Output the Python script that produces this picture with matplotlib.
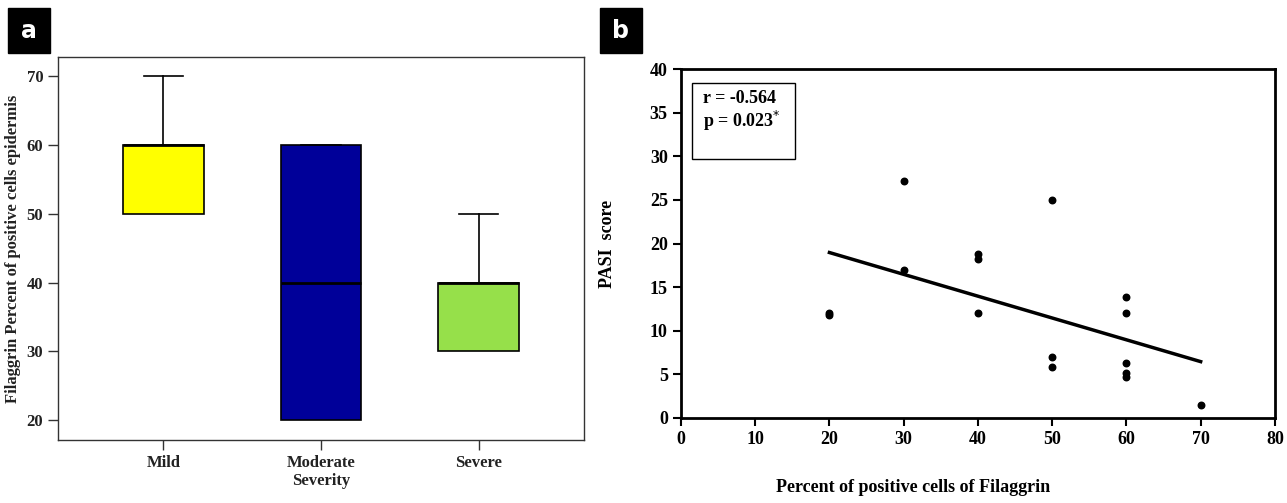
import matplotlib
matplotlib.use("Agg")
import matplotlib.pyplot as plt
import numpy as np
from matplotlib.patches import Rectangle

# ---- data ----
categories = ["Mild", "Moderate", "Severe"]
box_q1 = [50, 20, 30]
box_med = [60, 40, 40]
box_q3 = [60, 60, 40]
whisker_lo = [50, 20, 30]
whisker_hi = [70, 60, 50]
box_colors = ["#FFFF00", "#000099", "#96E04A"]
a_yticks = [20, 30, 40, 50, 60, 70]

filaggrin = [20, 20, 30, 30, 40, 40, 40, 50, 50, 50, 60, 60, 60, 60, 60, 70]
pasi = [12.0, 11.8, 27.2, 17.0, 18.8, 18.2, 12.0, 25.0, 7.0, 5.9, 13.9, 12.0, 6.3, 5.1, 4.7, 1.5]
b_xticks = [0, 10, 20, 30, 40, 50, 60, 70, 80]
b_yticks = [0, 5, 10, 15, 20, 25, 30, 35, 40]
stat_text = ["r = -0.564", "p = 0.023$^{*}$"]

serif = "Liberation Serif"
fig = plt.figure(figsize=(12.87, 5.03), dpi=100)

# ---- panel a ----
axa = fig.add_axes([0.045, 0.1252, 0.4088, 0.7614])
stats = []
for i, c in enumerate(categories):
    stats.append(dict(label=c, q1=box_q1[i], med=box_med[i], q3=box_q3[i],
                      whislo=whisker_lo[i], whishi=whisker_hi[i], fliers=[]))
pos = np.arange(1, len(categories) + 1)
bp = axa.bxp(stats, positions=pos, widths=0.51, patch_artist=True,
             showfliers=False, capwidths=0.25,
             boxprops=dict(linewidth=1.2, edgecolor="black"),
             medianprops=dict(color="black", linewidth=2),
             whiskerprops=dict(color="black", linewidth=1.2),
             capprops=dict(color="black", linewidth=1.2))
for patch, col in zip(bp["boxes"], box_colors):
    patch.set_facecolor(col)
for i in range(len(categories)):
    if whisker_lo[i] == box_q1[i]:
        bp["caps"][2 * i].set_visible(False)
axa.set_xlim(0.33, 3.67)
axa.set_ylim(17.1, 72.8)
axa.set_yticks(a_yticks)
axa.set_xticks(pos)
axa.set_xticklabels(categories)
for lab in axa.get_xticklabels() + axa.get_yticklabels():
    lab.set_fontfamily(serif)
    lab.set_fontweight("bold")
    lab.set_fontsize(12)
axa.tick_params(direction="out", length=7, width=1, colors="#333333", labelcolor="#222222")
for sp in axa.spines.values():
    sp.set_color("#333333")
    sp.set_linewidth(1)
axa.set_xlabel("Severity", family=serif, fontweight="bold", fontsize=12, color="#222222", labelpad=2)
axa.set_ylabel("Filaggrin Percent of positive cells epidermis", family=serif,
               fontweight="bold", fontsize=12, color="#222222", labelpad=4)

# ---- panel b ----
axb = fig.add_axes([0.5291, 0.169, 0.4615, 0.6938])
axb.scatter(filaggrin, pasi, s=22, color="black", zorder=3)
coef = np.polyfit(filaggrin, pasi, 1)
fx = np.array([min(filaggrin), max(filaggrin)])
axb.plot(fx, np.polyval(coef, fx), color="black", linewidth=2.5)
axb.set_xlim(0, 80)
axb.set_ylim(0, 40)
axb.set_xticks(b_xticks)
axb.set_yticks(b_yticks)
for lab in axb.get_xticklabels() + axb.get_yticklabels():
    lab.set_fontfamily(serif)
    lab.set_fontweight("bold")
    lab.set_fontsize(13)
axb.tick_params(direction="out", length=6, width=1.5)
for sp in axb.spines.values():
    sp.set_linewidth(2)
axb.set_ylabel("PASI  score", family=serif, fontweight="bold", fontsize=13, labelpad=24)
fig.text(913 / 1287, 1 - 487 / 503, "Percent of positive cells of Filaggrin", family=serif,
         fontweight="bold", fontsize=13, ha="center", va="center")
axb.add_patch(Rectangle((1.55, 29.7), 13.85, 8.7, fill=False, edgecolor="black",
                        linewidth=1, transform=axb.transData, zorder=4))
axb.text(3.0, 36.6, stat_text[0], family=serif, fontweight="bold", fontsize=13, va="center")
axb.text(3.0, 34.1, stat_text[1], family=serif, fontweight="bold", fontsize=13, va="center")

# ---- panel labels ----
for x0, lbl in [(8, "a"), (600, "b")]:
    fig.patches.append(Rectangle((x0 / 1287, 1 - 53 / 503), 42 / 1287, 45 / 503,
                                 transform=fig.transFigure, color="black", zorder=5))
    fig.text((x0 + 21) / 1287, 1 - 30.5 / 503, lbl, color="white", fontsize=17,
             fontweight="bold", family="DejaVu Sans", ha="center", va="center", zorder=6)

fig.savefig("out.png", dpi=100)
